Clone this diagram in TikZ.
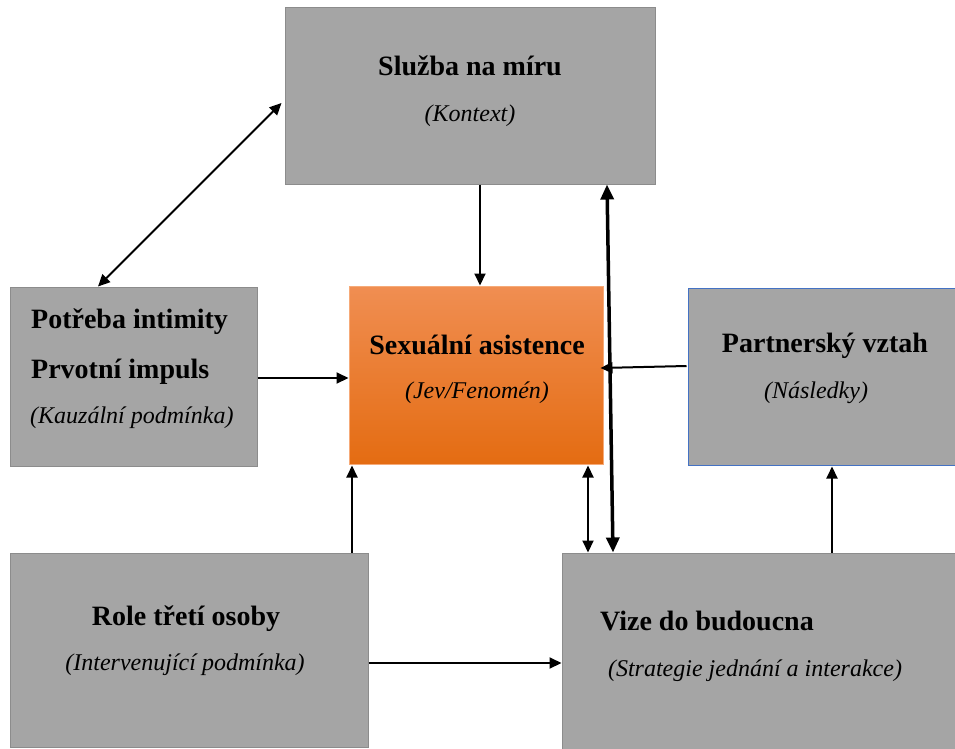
\documentclass[tikz,border=0pt]{standalone}
\usepackage{fontspec}
\setmainfont{Liberation Serif}
\usetikzlibrary{arrows.meta}
\definecolor{boxgray}{RGB}{165,165,165}
\definecolor{boxedge}{RGB}{140,140,140}
\definecolor{blueedge}{RGB}{68,114,196}
\definecolor{oratop}{RGB}{240,142,82}
\definecolor{orabot}{RGB}{228,108,18}
\definecolor{oraedge}{RGB}{246,170,120}
\tikzset{
  box/.style={draw=boxedge, fill=boxgray, line width=1pt, inner sep=0pt, minimum width=#1},
  ttl/.style={font=\fontsize{28}{32}\selectfont\bfseries, inner sep=0pt, anchor=center},
  sub/.style={font=\fontsize{24}{28}\selectfont\itshape, inner sep=0pt, anchor=center, text=black},
  thin/.style={line width=2pt, -{Triangle[length=12pt,width=11pt]}},
  dblthin/.style={line width=2pt, {Triangle[length=12pt,width=11pt]}-{Triangle[length=12pt,width=11pt]}},
  dblthick/.style={line width=3.5pt, {Triangle[length=15pt,width=13pt]}-{Triangle[length=15pt,width=13pt]}}
}
\begin{document}
\begin{tikzpicture}[x=1pt,y=-1pt]
\useasboundingbox (0,0) rectangle (955,749);
% boxes
\node[box=370, minimum height=176] (top) at (470,96) {};
\node[box=247, minimum height=179] (left) at (133.5,376.5) {};
\node[draw=oraedge, line width=1pt, top color=oratop, bottom color=orabot, inner sep=0pt, minimum width=254, minimum height=178] (ora) at (476,375) {};
\node[box=268, draw=blueedge, minimum height=177] (right) at (822,376.5) {};
\node[box=358, minimum height=194] (bl) at (189,650) {};
\node[box=395, minimum height=198] (br) at (759.5,652) {};
% texts
\node[ttl] (t1) at (470,66) {Služba na míru};
\node[sub] (s1) at (470,116) {(Kontext)};
\node[ttl, anchor=west] (t2a) at (31,322) {Potřeba intimity};
\node[ttl, anchor=west] (t2b) at (31,372) {Prvotní impuls};
\node[sub, anchor=west] (s2) at (30,418) {(Kauzální podmínka)};
\node[ttl] (t3) at (477,345) {Sexuální asistence};
\node[sub] (s3) at (477,393) {(Jev/Fenomén)};
\node[ttl] (t4) at (825,346) {Partnerský vztah};
\node[sub] (s4) at (816,393) {(Následky)};
\node[ttl] (t5) at (186,619) {Role třetí osoby};
\node[sub] (s5) at (185,665) {(Intervenující podmínka)};
\node[ttl] (t6) at (707,621) {Vize do budoucna};
\node[sub] (s6) at (755,671) {(Strategie jednání a interakce)};
% connectors
\draw[dblthin] ([xshift=-35.5]left.north) -- ([xshift=-3,yshift=-7]top.west);
\draw[thin] ([xshift=10]top.south) -- ([xshift=4]ora.north);
\draw[dblthick] ([xshift=137]top.south) -- ([xshift=-146.5]br.north);
\draw[dblthin] ([xshift=112,yshift=-1]ora.south) -- ([xshift=-171.5]br.north);
\draw[thin] ([yshift=-1.5]left.east) -- ([yshift=-3]ora.west);
\draw[thin] ([xshift=-1,yshift=10.5]right.west) -- ([xshift=-3,yshift=7]ora.east);
\draw[thin] ([xshift=163]bl.north) -- ([xshift=-124,yshift=-1]ora.south);
\draw[thin] ([yshift=-13]bl.east) -- ([yshift=-11]br.west);
\draw[thin] ([xshift=72.5]br.north) -- ([xshift=10,yshift=-1]right.south);
\end{tikzpicture}
\end{document}
